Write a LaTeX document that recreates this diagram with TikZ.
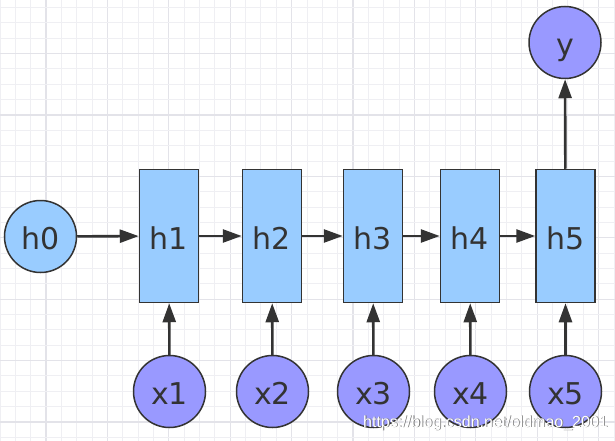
\documentclass[tikz,border=0pt]{standalone}
\usepackage{fontspec}
\setmainfont{DejaVu Sans}
\newfontfamily\wmfont{Liberation Sans}
\usetikzlibrary{arrows.meta}
\definecolor{boxblue}{HTML}{99CCFF}
\definecolor{circpurple}{HTML}{9999FF}
\definecolor{ink}{HTML}{333333}
\definecolor{gridminor}{HTML}{EFEFF3}
\definecolor{gridmajor}{HTML}{E3E3E9}
\begin{document}
\begin{tikzpicture}[x=1pt,y=-1pt,
  lbl/.style={font=\fontsize{30}{36}\selectfont, text=ink, text height=26pt, text depth=0pt, inner sep=0pt},
  hbox/.style={lbl, draw=ink, line width=1.5pt, fill=boxblue, minimum width=59pt, minimum height=133pt},
  hcirc/.style={lbl, circle, draw=ink, line width=1.5pt, fill=boxblue, minimum size=72pt},
  xcirc/.style={hcirc, fill=circpurple},
  conn/.style={draw=ink, line width=2.6pt, -{Triangle[length=19pt,width=13pt]}},
  wmark/.style={font=\wmfont\fontsize{16}{19}\selectfont, inner sep=0pt, anchor=base west}]
\useasboundingbox (0,0) rectangle (615,441);
\fill[white] (0,0) rectangle (615,441);
% grid
\foreach \k in {0,...,40} {
  \pgfmathtruncatemacro{\m}{mod(\k,4)}
  \ifnum\m=3
    \draw[gridmajor, line width=1.2pt] ({\k*15.35},0) -- ({\k*15.35},441);
  \else
    \draw[gridminor, line width=1pt] ({\k*15.35},0) -- ({\k*15.35},441);
  \fi
}
\foreach \j in {0,...,28} {
  \pgfmathtruncatemacro{\m}{mod(\j,4)}
  \ifnum\m=3
    \draw[gridmajor, line width=1.2pt] (0,{7.5+\j*15.35}) -- (615,{7.5+\j*15.35});
  \else
    \draw[gridminor, line width=1pt] (0,{7.5+\j*15.35}) -- (615,{7.5+\j*15.35});
  \fi
}
% nodes
\node[hcirc] (h0) at (40.5,236.5) {h0};
\node[hbox] (h1) at (169,236) {h1};
\node[hbox] (h2) at (272,236) {h2};
\node[hbox] (h3) at (373,236) {h3};
\node[hbox] (h4) at (470,236) {h4};
\node[hbox] (h5) at (565.5,236) {h5};
\node[xcirc] (y) at (565,42.5) {y};
\node[xcirc] (x1) at (169.5,391.5) {x1};
\node[xcirc] (x2) at (272.5,391.5) {x2};
\node[xcirc] (x3) at (373.5,391.5) {x3};
\node[xcirc] (x4) at (470.5,391.5) {x4};
\node[xcirc] (x5) at (565.5,391.5) {x5};
% connectors
\draw[conn] (h0) -- (h1);
\draw[conn] (h1) -- (h2);
\draw[conn] (h2) -- (h3);
\draw[conn] (h3) -- (h4);
\draw[conn] (h4) -- (h5);
\draw[conn] (x1) -- (h1);
\draw[conn] (x2) -- (h2);
\draw[conn] (x3) -- (h3);
\draw[conn] (x4) -- (h4);
\draw[conn] (x5) -- (h5);
\draw[conn] (h5) -- (y);
% watermark
\node[wmark, text=black!55] (wms) at (363.8,427.8) {https://blog.csdn.net/oldmao\_2001};
\node[wmark, text=white] (wm) at (363,427) {https://blog.csdn.net/oldmao\_2001};
\end{tikzpicture}
\end{document}
